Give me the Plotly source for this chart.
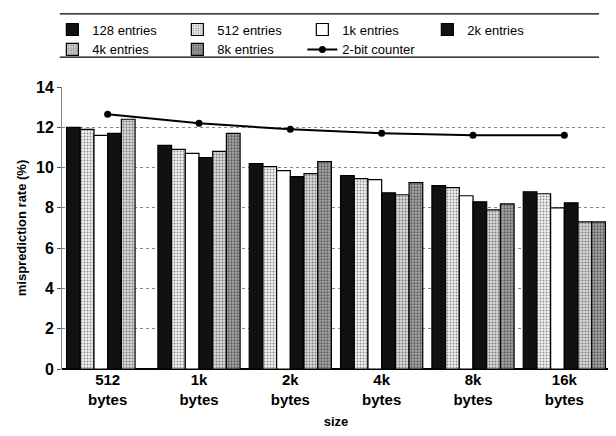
import plotly.graph_objects as go

categories = ["512<br>bytes", "1k<br>bytes", "2k<br>bytes", "4k<br>bytes", "8k<br>bytes", "16k<br>bytes"]
series_names = ["128 entries", "512 entries", "1k entries", "2k entries", "4k entries", "8k entries"]
e128 = [12.0, 11.1, 10.2, 9.6, 9.1, 8.8]
e512 = [11.9, 10.9, 10.05, 9.45, 9.0, 8.7]
e1k = [11.6, 10.7, 9.85, 9.4, 8.6, 8.0]
e2k = [11.7, 10.5, 9.55, 8.75, 8.3, 8.25]
e4k = [12.4, 10.8, 9.7, 8.65, 7.9, 7.3]
e8k = [None, 11.7, 10.3, 9.25, 8.2, 7.3]
counter_name = "2-bit counter"
counter = [12.65, 12.2, 11.9, 11.7, 11.6, 11.6]

series_values = [e128, e512, e1k, e2k, e4k, e8k]
styles = [
    dict(color="#111111", pattern=None),
    dict(color="white", pattern=dict(shape=".", fgcolor="#222", bgcolor="#f2f2f2", size=3, solidity=0.3)),
    dict(color="white", pattern=None),
    dict(color="#111111", pattern=None),
    dict(color="white", pattern=dict(shape=".", fgcolor="#222", bgcolor="#d8d8d8", size=3, solidity=0.35)),
    dict(color="white", pattern=dict(shape=".", fgcolor="#111", bgcolor="#aaaaaa", size=3, solidity=0.45)),
]

fig = go.Figure()
for name, vals, st in zip(series_names, series_values, styles):
    marker = dict(color=st["color"], line=dict(color="#000", width=1.2))
    if st["pattern"] is not None:
        marker["pattern"] = st["pattern"]
    fig.add_trace(go.Bar(name=name, x=categories, y=vals, marker=marker))

fig.add_trace(go.Scatter(name=counter_name, x=categories, y=counter, mode="lines+markers",
                         line=dict(color="#000", width=2),
                         marker=dict(color="#000", size=7, symbol="circle")))

fig.update_layout(
    width=616, height=436,
    margin=dict(l=54, r=14, t=79, b=75, autoexpand=False),
    paper_bgcolor="white", plot_bgcolor="white",
    barmode="group", bargap=0.1, bargroupgap=0,
    font=dict(family="Liberation Sans, Arial, sans-serif", color="#000"),
    showlegend=True,
    legend=dict(orientation="h", xref="container", x=0.072, xanchor="left",
                yref="container", y=0.985, yanchor="top",
                entrywidth=80, entrywidthmode="pixels",
                font=dict(size=13, color="#000"), traceorder="normal",
                bgcolor="rgba(0,0,0,0)", itemwidth=30, tracegroupgap=0),
    xaxis=dict(title=dict(text="size", font=dict(size=13, weight="bold"), standoff=10),
               tickfont=dict(size=15, weight="bold"), showgrid=False, showline=False,
               ticks="", range=[-0.5, 5.5]),
    yaxis=dict(title=dict(text="misprediction rate (%)", font=dict(size=13, weight="bold"), standoff=6),
               range=[0, 14], dtick=2, tickfont=dict(size=16, weight="bold"),
               showgrid=True, gridcolor="#888", griddash="dot", gridwidth=1,
               zeroline=True, zerolinecolor="#000", zerolinewidth=1.5,
               showline=True, linecolor="#888", linewidth=1,
               ticks="outside", ticklen=4, tickcolor="#555"),
    shapes=[
        dict(type="line", xref="paper", yref="paper", x0=-0.004, x1=0.98, y0=1.259, y1=1.259,
             line=dict(color="#000", width=1.2)),
        dict(type="line", xref="paper", yref="paper", x0=-0.004, x1=0.98, y0=1.106, y1=1.106,
             line=dict(color="#000", width=1.2)),
    ],
)

fig.write_html("out.html")
